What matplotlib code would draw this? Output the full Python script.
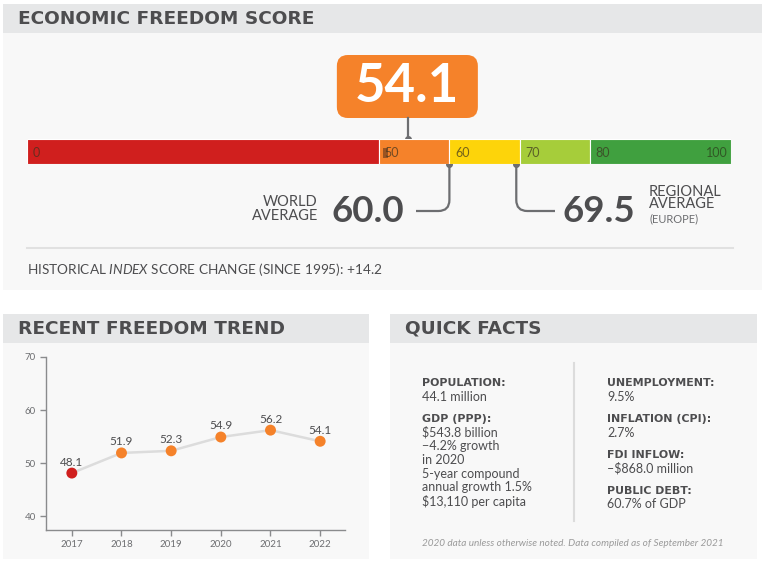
import matplotlib.pyplot as plt
from matplotlib.patches import Rectangle, FancyBboxPatch, PathPatch
from matplotlib.path import Path

# data
score = 54.1
world_avg = 60.0
region_avg = 69.5
band_edges = [0, 50, 60, 70, 80, 100]
band_colors = ['#d01f1e', '#f5822a', '#fdd40a', '#a6cd3a', '#40a03f']
band_labels = ['0', '50', '60', '70', '80']
years = [2017, 2018, 2019, 2020, 2021, 2022]
trend = [48.1, 51.9, 52.3, 54.9, 56.2, 54.1]
trend_colors = ['#d01f1e', '#f5822a', '#f5822a', '#f5822a', '#f5822a', '#f5822a']
facts_left = [('POPULATION:', ['44.1 million']),
              ('GDP (PPP):', ['$543.8 billion', '\u22124.2% growth', 'in 2020',
                              '5-year compound', 'annual growth 1.5%', '$13,110 per capita'])]
facts_right = [('UNEMPLOYMENT:', ['9.5%']),
               ('INFLATION (CPI):', ['2.7%']),
               ('FDI INFLOW:', ['\u2013$868.0 million']),
               ('PUBLIC DEBT:', ['60.7% of GDP'])]

plt.rcParams['font.family'] = ['Lato', 'DejaVu Sans']
plt.rcParams['mathtext.fontset'] = 'custom'
plt.rcParams['mathtext.it'] = 'Lato:italic'
plt.rcParams['mathtext.rm'] = 'Lato'
HEAD = ['DejaVu Sans']
DARK = '#4d4d4f'
GREY = '#6d6e71'
PANEL = '#f8f8f8'
BAND = '#e6e7e8'

W, H = 764, 565
fig = plt.figure(figsize=(W / 100, H / 100), dpi=100)
fig.patch.set_facecolor('white')

# full-figure axes in pixel units for the layout
bg = fig.add_axes([0, 0, 1, 1])
bg.set_xlim(0, W)
bg.set_ylim(H, 0)
bg.axis('off')

# panels
for x0, y0, x1, y1, yb, title in [(3, 4, 762, 290, 33, 'ECONOMIC FREEDOM SCORE'),
                                   (3, 314, 369, 559, 343, 'RECENT FREEDOM TREND'),
                                   (390, 314, 757, 559, 343, 'QUICK FACTS')]:
    bg.add_patch(Rectangle((x0, y0), x1 - x0, y1 - y0, color=PANEL, lw=0, zorder=0))
    bg.add_patch(Rectangle((x0, y0), x1 - x0, yb - y0, color=BAND, lw=0, zorder=1))
    bg.text(x0 + 15, (y0 + yb) / 2 + 0.5, title, fontsize=13.3, family=HEAD,
            fontweight='bold', color=DARK, va='center', ha='left', zorder=2)

# gauge bar
gx0, gx1, gy0, gy1 = 27, 731, 139, 164
gauge = fig.add_axes([gx0 / W, 1 - gy1 / H, (gx1 - gx0) / W, (gy1 - gy0) / H])
gauge.set_xlim(0, 100)
gauge.set_ylim(0, 1)
gauge.axis('off')
for i in range(len(band_colors)):
    lo, hi = band_edges[i], band_edges[i + 1]
    gauge.barh(0.5, hi - lo, left=lo, height=1, color=band_colors[i],
               edgecolor='white', linewidth=0.8)
    gauge.text(lo + 0.8, 0.45, band_labels[i], fontsize=9, color='#3a3320',
               alpha=0.7, va='center', ha='left', zorder=4)
gauge.text(99.5, 0.45, '100', fontsize=9, color='#2a3a1a', alpha=0.7,
           va='center', ha='right')
# small dark mark behind the "5" of 50
gauge.add_patch(Rectangle((382.5, 148), 5, 10, color='#9a5422', lw=0, zorder=3,
                          transform=bg.transData, clip_on=False))


def to_px(v):
    # score value -> pixel x through the gauge's own scale
    disp = gauge.transData.transform((v, 0))
    return bg.transData.inverted().transform(disp)[0]


# score box
sx = to_px(score)
bg.add_patch(FancyBboxPatch((sx - 71, 55), 141, 63,
                            boxstyle='round,pad=0,rounding_size=11',
                            fc='#f5822a', ec='none', zorder=3))
bg.text(sx - 1, 87, f'{score:.1f}', fontsize=38, fontweight='bold', color='white',
        ha='center', va='center', zorder=4)
bg.plot([sx, sx], [118, gy0], color=GREY, lw=1.6, zorder=3)
bg.plot(sx, gy0, 'o', color=GREY, ms=4, zorder=4)

# world / regional connectors
wx = to_px(world_avg)
rx = to_px(region_avg)
r = 11
for x, d, xend in [(wx, -1, 416), (rx, 1, 555)]:
    path = Path([(x, gy1), (x, 211 - r), (x, 211), (x + d * r, 211), (xend, 211)],
                [Path.MOVETO, Path.LINETO, Path.CURVE3, Path.CURVE3, Path.LINETO])
    bg.add_patch(PathPatch(path, fc='none', ec=GREY, lw=1.6, zorder=3))
    bg.plot(x, gy1, 'o', color=GREY, ms=4, zorder=4)

bg.text(404, 211, f'{world_avg:.1f}', fontsize=26.5, fontweight='bold', color=DARK,
        ha='right', va='center')
bg.text(318, 202, 'WORLD', fontsize=10.5, color=DARK, ha='right', va='center')
bg.text(318, 216.5, 'AVERAGE', fontsize=10.5, color=DARK, ha='right', va='center')
bg.text(563, 211, f'{region_avg:.1f}', fontsize=26.5, fontweight='bold', color=DARK,
        ha='left', va='center')
bg.text(649, 191.5, 'REGIONAL', fontsize=10.5, color=DARK, ha='left', va='center')
bg.text(649, 204.5, 'AVERAGE', fontsize=10.5, color=DARK, ha='left', va='center')
bg.text(649, 219, '(EUROPE)', fontsize=8, color=GREY, ha='left', va='center')

bg.plot([27, 733], [248, 248], color='#e1e1e1', lw=1.5)
bg.text(27, 270, 'HISTORICAL $\\it{INDEX}$ SCORE CHANGE (SINCE 1995): +14.2',
        fontsize=9.8, color=DARK, ha='left', va='center')

# recent trend chart
ax = fig.add_axes([46 / W, 1 - 530 / H, (345 - 46) / W, (530 - 357) / H])
ax.set_facecolor('none')
ax.set_xlim(2016.48, 2022.5)
ax.set_ylim(37.36, 70)
ax.plot(years, trend, color='#dcdcdc', lw=1.8, zorder=2)
ax.scatter(years, trend, s=62, c=trend_colors, zorder=3, linewidths=0)
for yr, v in zip(years, trend):
    ax.annotate(f'{v:.1f}', (yr, v), xytext=(0, 4), textcoords='offset points',
                ha='center', va='bottom', fontsize=8.5, color=DARK)
ax.set_xticks(years)
ax.set_yticks([40, 50, 60, 70])
for s in ['top', 'right']:
    ax.spines[s].set_visible(False)
for s in ['left', 'bottom']:
    ax.spines[s].set_color('#8a8b8d')
    ax.spines[s].set_linewidth(1)
ax.tick_params(colors='#8a8b8d', labelcolor=GREY, labelsize=7, length=4, width=1)

# quick facts
bg.plot([574, 574], [363, 521], color='#dcdcdc', lw=1.5)
for x, facts in [(422, facts_left), (607, facts_right)]:
    y = 383
    for head, lines in facts:
        bg.text(x, y, head, fontsize=7.9, family=HEAD, fontweight='bold', color=DARK,
                ha='left', va='center')
        y += 13.7
        for ln in lines:
            bg.text(x, y, ln, fontsize=9, color=DARK, ha='left', va='center')
            y += 13.7
        y += 8.5
bg.text(422, 543, '2020 data unless otherwise noted. Data compiled as of September 2021',
        fontsize=7.2, style='italic', color='#9a9a9a', ha='left', va='center')

fig.savefig('out.png', dpi=100, facecolor='white')
